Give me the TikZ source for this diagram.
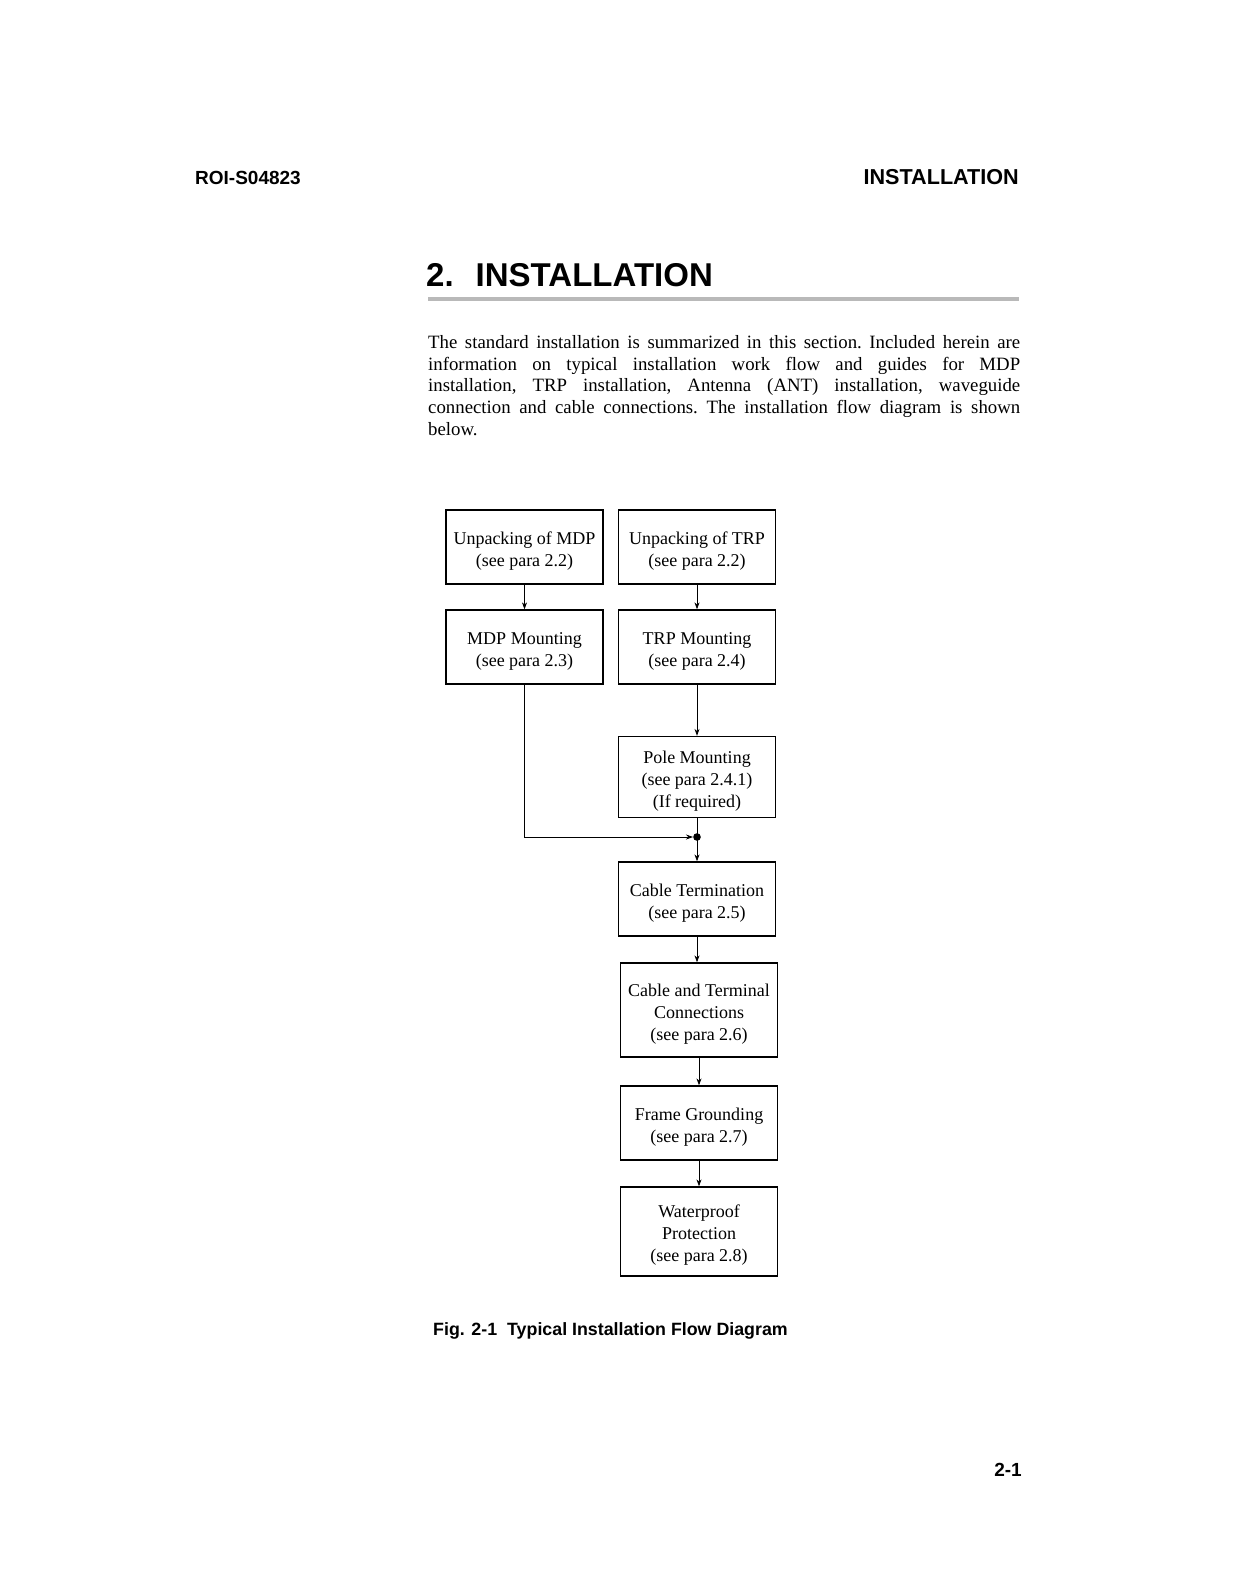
\documentclass[tikz,border=0pt]{standalone}
\usepackage{fontspec}
\setmainfont{Liberation Serif}
\newfontfamily\arialf{Liberation Sans}
\usetikzlibrary{arrows.meta}
\tikzset{
  flowbox/.style={draw, line width=1.3pt, minimum width=157pt, inner sep=0pt},
  boxtext/.style={align=center, inner sep=0pt, yshift=-4pt, font=\fontsize{18}{22}\selectfont},
  flowline/.style={line width=0.8pt},
  flowarrow/.style={line width=0.8pt, -{Stealth[length=7pt,width=5pt]}},
  hdr/.style={inner sep=0pt, font=\arialf\bfseries\fontsize{19}{22}\selectfont},
}
\begin{document}
\begin{tikzpicture}[x=1pt,y=-1pt]
\useasboundingbox (0,0) rectangle (1244,1582);
\fill[white] (0,0) rectangle (1244,1582);
% headers
\node[hdr, anchor=base west] (hl) at (195,184) {ROI-S04823};
\node[hdr, anchor=base east, font=\arialf\bfseries\fontsize{21.6}{24}\selectfont] (hr) at (1019,184) {INSTALLATION};
\node[inner sep=0pt, anchor=base west, font=\arialf\bfseries\fontsize{33}{36}\selectfont] (title) at (426,286) {2.\hspace{22pt}INSTALLATION};
\fill[gray!55] (428,297) rectangle (1019,301);
% paragraph
\node[inner sep=0pt, anchor=north west, text width=592pt, align=justify,
  font=\fontsize{18.8}{21.8}\selectfont\frenchspacing] (para) at (428,335)
{The standard installation is summarized in this section. Included herein are\linebreak
information on typical installation work flow and guides for MDP\linebreak
installation, TRP installation, Antenna (ANT) installation, waveguide\linebreak
connection and cable connections. The installation flow diagram is shown\linebreak
below.};
% boxes
\node[flowbox, minimum height=74pt, label={[boxtext]center:{Unpacking of MDP\\(see para 2.2)}}] (A) at (524.5,547) {};
\node[flowbox, minimum height=74pt, label={[boxtext]center:{Unpacking of TRP\\(see para 2.2)}}] (B) at (697,547) {};
\node[flowbox, minimum height=74pt, label={[boxtext]center:{MDP Mounting\\(see para 2.3)}}] (C) at (524.5,647) {};
\node[flowbox, minimum height=74pt, label={[boxtext]center:{TRP Mounting\\(see para 2.4)}}] (D) at (697,647) {};
\node[flowbox, minimum height=81pt, label={[boxtext]center:{Pole Mounting\\(see para 2.4.1)\\(If required)}}] (E) at (697,777) {};
\node[flowbox, minimum height=74pt, label={[boxtext]center:{Cable Termination\\(see para 2.5)}}] (F) at (697,899) {};
\node[flowbox, minimum height=94pt, label={[boxtext]center:{Cable and Terminal\\Connections\\(see para 2.6)}}] (G) at (699,1010) {};
\node[flowbox, minimum height=74pt, label={[boxtext]center:{Frame Grounding\\(see para 2.7)}}] (H) at (699,1123) {};
\node[flowbox, minimum height=89pt, label={[boxtext]center:{Waterproof\\Protection\\(see para 2.8)}}] (I) at (699,1231.5) {};
\coordinate (j) at (697,837);
% connectors
\draw[flowarrow] (A) -- (C);
\draw[flowarrow] (B) -- (D);
\draw[flowarrow] (D) -- (E);
\draw[flowline] (E.south) -- (j);
\draw[flowarrow, shorten >=4pt] (C.south) |- (j);
\fill (j) circle (3.8pt);
\draw[flowarrow] (j) -- (F.north);
\draw[flowarrow] (F.south) -- (F.south |- G.north);
\draw[flowarrow] (G.south) -- (G.south |- H.north);
\draw[flowarrow] (H.south) -- (H.south |- I.north);
% caption and page number
\node[inner sep=0pt, anchor=base west, font=\arialf\bfseries\fontsize{17.8}{20}\selectfont] (cap) at (433,1335) {Fig. 2-1\hspace{10pt}Typical Installation Flow Diagram};
\node[hdr, anchor=base east] (pg) at (1022,1476) {2-1};
\end{tikzpicture}
\end{document}
